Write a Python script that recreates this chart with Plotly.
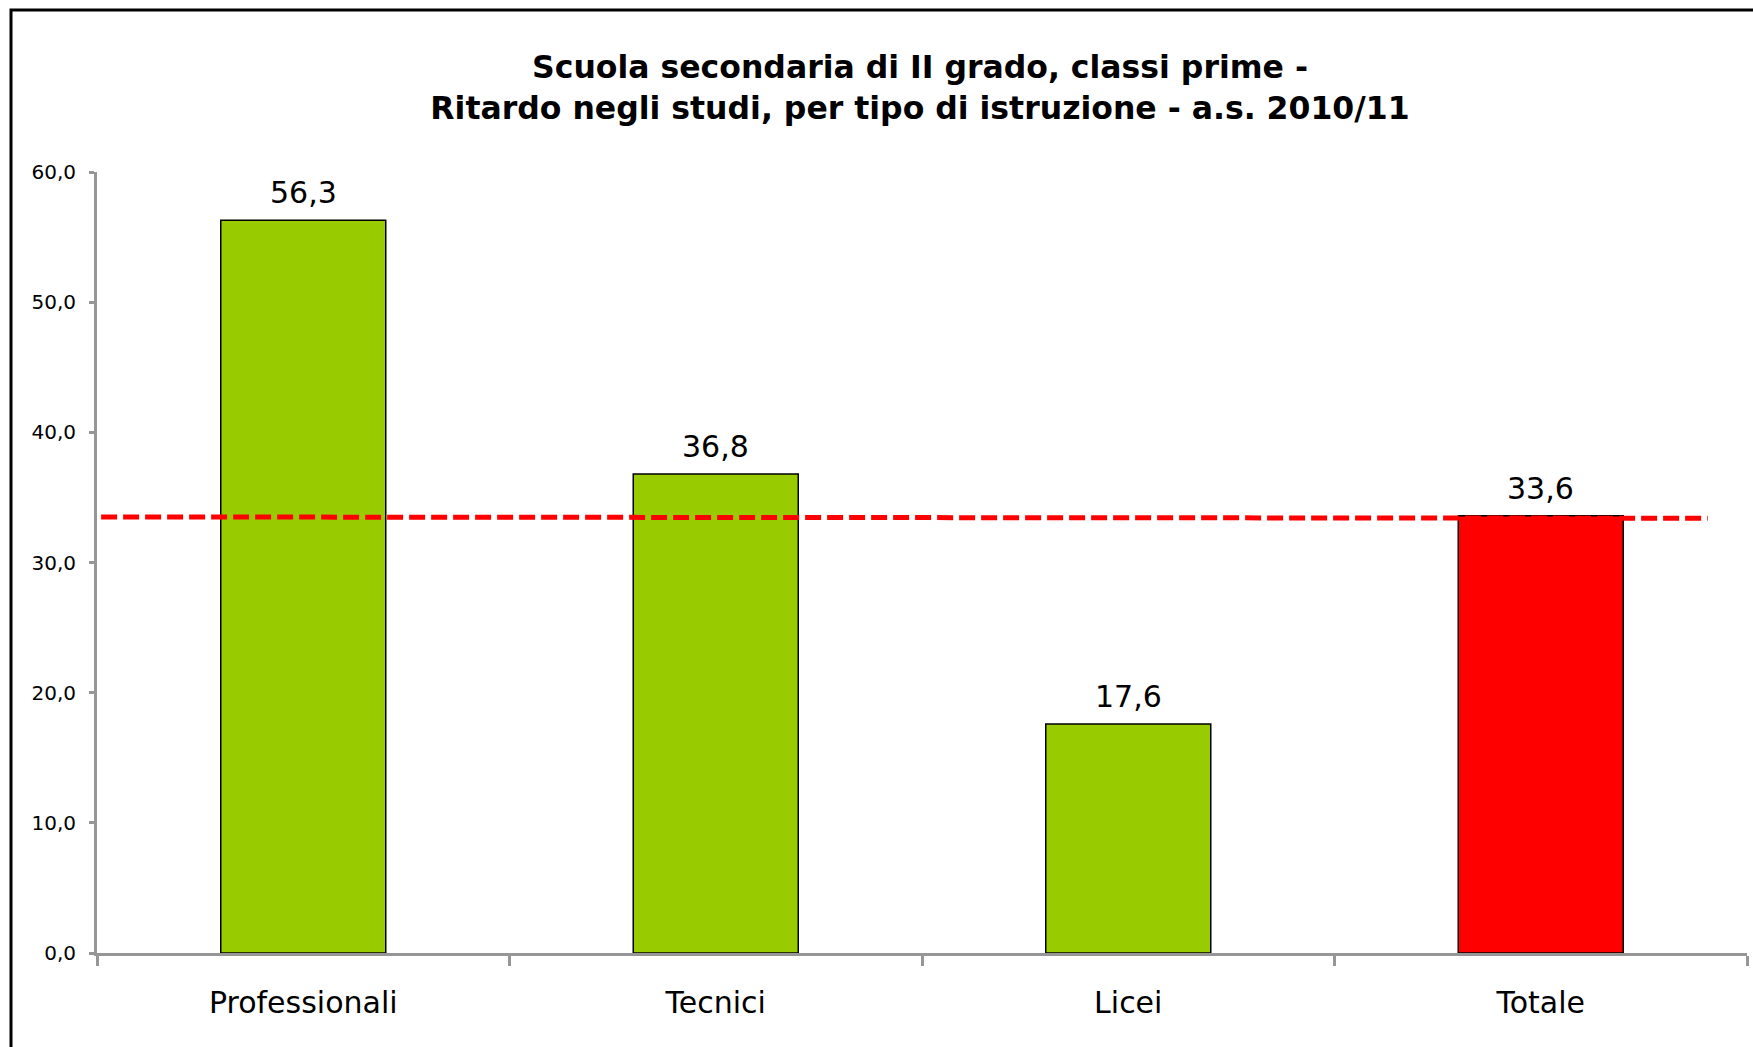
import plotly.graph_objects as go

categories = ["Professionali", "Tecnici", "Licei", "Totale"]
values = [56.3, 36.8, 17.6, 33.6]
bar_colors = ["#99CC00", "#99CC00", "#99CC00", "#FF0000"]
avg_x = [-0.49, 3.405]
avg_y = [33.5, 33.4]
title_lines = ["Scuola secondaria di II grado, classi prime -",
               "Ritardo negli studi, per tipo di istruzione - a.s. 2010/11"]

W, H = 1753, 1047
L, R, T, B = 97, 6, 172, 94
pw, ph = W - L - R, H - T - B
FONT = "DejaVu Sans, Arial, sans-serif"
GRAY = "#969696"

fig = go.Figure()
fig.add_trace(go.Bar(
    x=categories, y=values,
    marker=dict(color=bar_colors, line=dict(color="black", width=1.5)),
    width=0.4, showlegend=False, hoverinfo="x+y",
))
fig.add_trace(go.Scatter(
    x=avg_x, y=avg_y, xaxis="x2", mode="lines",
    line=dict(color="#FF0000", width=5, dash="16px,6px"),
    showlegend=False,
))
for c, v in zip(categories, values):
    fig.add_annotation(
        x=c, y=v, xref="x", yref="y", text=f"{v:.1f}".replace(".", ","),
        showarrow=False, yanchor="bottom", yshift=8,
        font=dict(size=30, family=FONT, color="black"),
    )

def px_x(p):
    return (p - L) / pw

def px_y(p):
    return (H - B - p) / ph

fig.update_layout(
    width=W, height=H,
    margin=dict(l=L, r=R, t=T, b=B),
    paper_bgcolor="white", plot_bgcolor="white",
    separators=",.",
    font=dict(family=FONT, color="black"),
    title=dict(text="<b>" + "<br>".join(title_lines) + "</b>",
               x=920 / W, xanchor="center", xref="container",
               y=1 - 78 / H, yanchor="top", yref="container",
               font=dict(size=31.5, family=FONT, color="black")),
    xaxis=dict(type="category", showline=True, linecolor=GRAY, linewidth=3,
               ticks="outside", tickson="boundaries", ticklen=10, tickwidth=3,
               tickcolor=GRAY, showgrid=False, zeroline=False,
               tickfont=dict(size=30, family=FONT, color="black"),
               ticklabelstandoff=21,
               range=[-0.5, 3.5]),
    xaxis2=dict(overlaying="x", range=[-0.5, 3.5], visible=False),
    yaxis=dict(range=[0, 60], dtick=10, tickformat=".1f", showline=True,
               linecolor=GRAY, linewidth=3, ticks="outside", ticklen=5,
               tickwidth=3, tickcolor=GRAY, showgrid=False, zeroline=False,
               tickfont=dict(size=20, family=FONT, color="black"),
               ticklabelstandoff=9),
    shapes=[dict(type="rect", xref="paper", yref="paper",
                 x0=px_x(11), x1=px_x(W + 20), y0=px_y(H + 20), y1=px_y(10),
                 line=dict(color="black", width=3), fillcolor="rgba(0,0,0,0)",
                 layer="above")],
    bargap=0.6,
)

fig.write_html("out.html", config={"displayModeBar": False},
               post_script="document.body.style.margin='0px';")
